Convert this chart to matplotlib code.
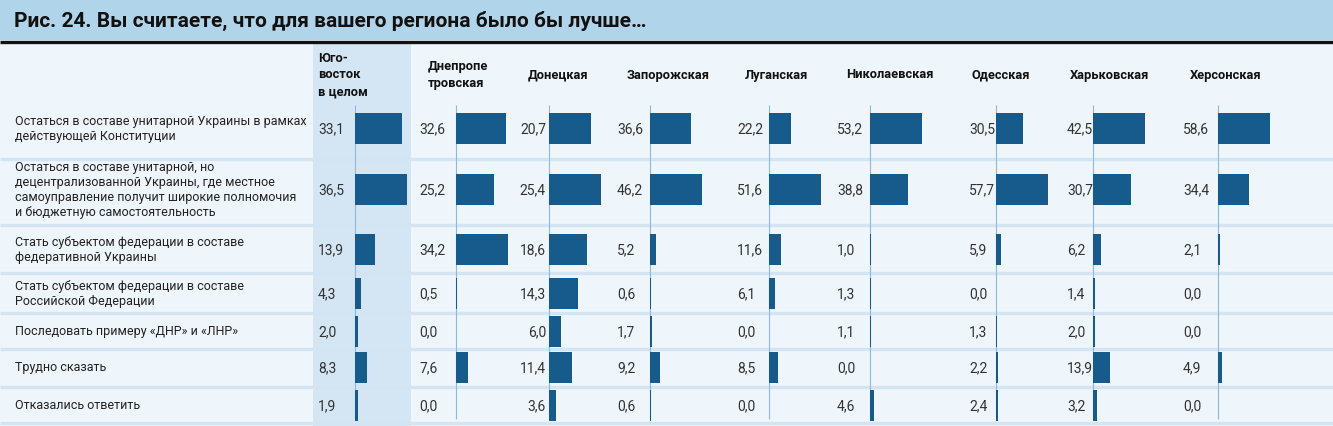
import matplotlib.pyplot as plt
from matplotlib.patches import Rectangle

plt.rcParams['font.family'] = ['Roboto', 'DejaVu Sans']

title = "Рис. 24. Вы считаете, что для вашего региона было бы лучше…"

answers = [
    "Остаться в составе унитарной Украины в рамках\nдействующей Конституции",
    "Остаться в составе унитарной, но\nдецентрализованной Украины, где местное\n"
    "самоуправление получит широкие полномочия\nи бюджетную самостоятельность",
    "Стать субъектом федерации в составе\nфедеративной Украины",
    "Стать субъектом федерации в составе\nРоссийской Федерации",
    "Последовать примеру «ДНР» и «ЛНР»",
    "Трудно сказать",
    "Отказались ответить",
]

regions = ["Юго-\nвосток\nв целом", "Днепропе\nтровская", "Донецкая", "Запорожская",
           "Луганская", "Николаевская", "Одесская", "Харьковская", "Херсонская"]

yugo_vostok = [33.1, 36.5, 13.9, 4.3, 2.0, 8.3, 1.9]
dnepr = [32.6, 25.2, 34.2, 0.5, 0.0, 7.6, 0.0]
donetsk = [20.7, 25.4, 18.6, 14.3, 6.0, 11.4, 3.6]
zaporozhye = [36.6, 46.2, 5.2, 0.6, 1.7, 9.2, 0.6]
lugansk = [22.2, 51.6, 11.6, 6.1, 0.0, 8.5, 0.0]
nikolaev = [53.2, 38.8, 1.0, 1.3, 1.1, 0.0, 4.6]
odessa = [30.5, 57.7, 5.9, 0.0, 1.3, 2.2, 2.4]
kharkov = [42.5, 30.7, 6.2, 1.4, 2.0, 13.9, 3.2]
kherson = [58.6, 34.4, 2.1, 0.0, 0.0, 4.9, 0.0]
columns = [yugo_vostok, dnepr, donetsk, zaporozhye, lugansk, nikolaev, odessa, kharkov, kherson]

# layout in pixels
W, H = 1333, 427
col_x = [355, 456, 549, 650, 769, 870, 996, 1093, 1218]
head_x = [318, 428, 528, 627, 745, 846, 972, 1070, 1190]
num_x = [318, 419, 546, 617, 737, 837, 969, 1067, 1183]
num_ha = ["left", "left", "right", "left", "left", "left", "left", "left", "left"]
row_y = [129, 190, 250, 294, 332, 368, 406]
sep_y = [160, 226, 274, 314, 350, 388, 424]
bar_max = 52

bg = "#eef5fb"
fig = plt.figure(figsize=(W / 100, H / 100), dpi=100, facecolor=bg)
ax = fig.add_axes([0, 0, 1, 1])
ax.set_xlim(0, W)
ax.set_ylim(H, 0)
ax.axis("off")

# title band
ax.add_patch(Rectangle((0, 0), W, 41, color="#b0d4e9", lw=0))
ax.hlines(42.5, 0, W, color="#111111", lw=2.4)
ax.text(14, 21, title, fontsize=15, fontweight="bold", color="#111111", va="center")

# highlighted summary column
ax.add_patch(Rectangle((313, 45), 98, H - 45, color="#d4e6f4", lw=0, zorder=0))

ax.hlines(sep_y, 0, W, color="#d3e5f3", lw=2.4, zorder=1)

for label, y in zip(answers, row_y):
    ax.text(15, y, label, fontsize=9, color="#222222", va="center", linespacing=1.22)

for name, hx in zip(regions, head_x):
    ax.text(hx, 75, name, fontsize=9.3, fontweight="bold", color="#111111",
            va="center", linespacing=1.35)

ax.vlines(col_x, 106, 420, color="#8fb9da", lw=0.8, zorder=2)

for vals, x0, nx, ha in zip(columns, col_x, num_x, num_ha):
    top = max(vals)
    widths = [v / top * bar_max for v in vals]
    ax.barh(row_y, widths, left=x0, height=31, color="#175a8c", zorder=3)
    for v, y in zip(vals, row_y):
        ax.text(nx, y, f"{v:.1f}".replace(".", ","), fontsize=10,
                color="#333333", ha=ha, va="center")

fig.savefig("out.png", dpi=100, facecolor=bg)
